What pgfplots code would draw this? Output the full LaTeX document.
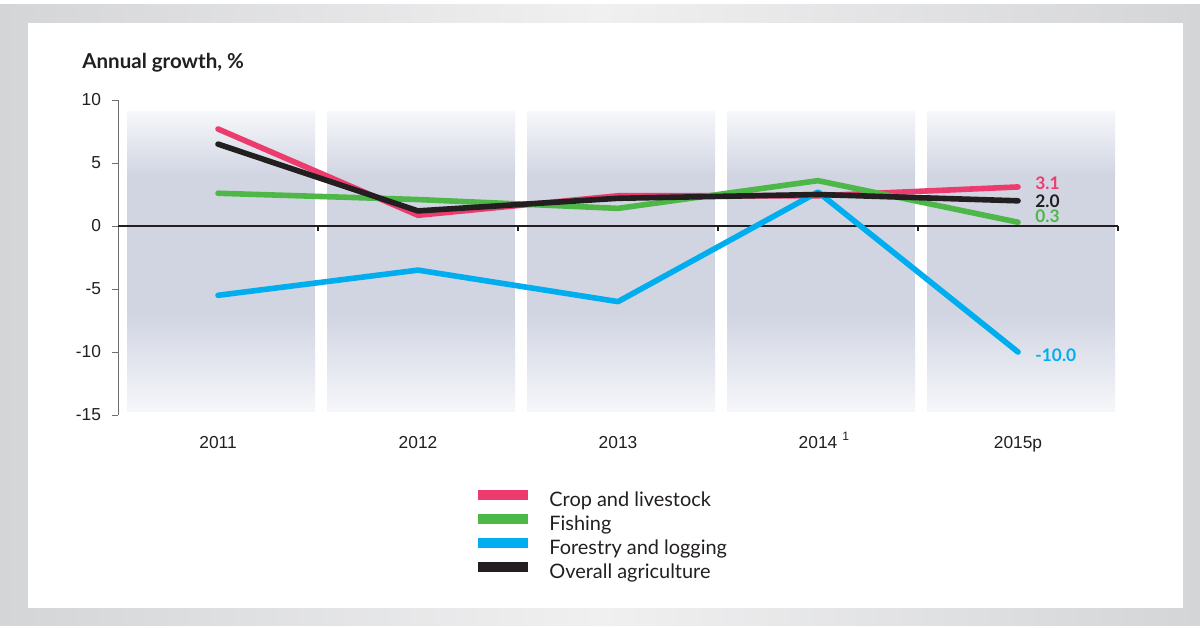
\documentclass[border=0pt]{standalone}
\usepackage{pgfplots}
\pgfplotsset{compat=1.18}
\usepackage{fontspec}
\setmainfont{Lato}
\newfontfamily\arialfont{Liberation Sans}
\definecolor{cpink}{HTML}{ED3B6E}
\definecolor{cgreen}{HTML}{4DB848}
\definecolor{cblue}{HTML}{00AEEF}
\definecolor{cblack}{HTML}{231F20}
\definecolor{axisgray}{HTML}{6D6E71}
\definecolor{band}{RGB}{209,213,226}
\definecolor{bandlight}{RGB}{246,247,250}
\definecolor{frameg}{RGB}{212,213,215}
\definecolor{framel}{RGB}{240,240,241}
\newcommand\band[2]{%
 \shade[top color=bandlight, bottom color=band] (axis cs:#1,9.05) rectangle (axis cs:#2,4);
 \fill[band] (axis cs:#1,4.05) rectangle (axis cs:#2,-7.05);
 \shade[top color=band, bottom color=bandlight] (axis cs:#1,-7) rectangle (axis cs:#2,-14.75);
}
\newcommand\ztick[1]{\draw[cblack, line width=0.6bp] (axis cs:#1,0) -- ([yshift=-2.5bp]axis cs:#1,0);}
\begin{document}
\begin{tikzpicture}
\begin{scope}[x=0.5bp,y=-0.5bp]
\fill[white] (0,0) rectangle (1200,627);
\shade[left color=frameg, right color=frameg, middle color=framel] (0,5) rectangle (1200,625);
\fill[white] (28,23) rectangle (1183,608);
\end{scope}
\node[anchor=base west, font=\bfseries\fontsize{10.3}{12}\selectfont, text=cblack, inner sep=0] at (41bp,-34.5bp) {Annual growth, \%};
\begin{axis}[
 at={(59bp,-207.5bp)}, anchor=south west,
 scale only axis, width=500bp, height=157.5bp,
 xmin=-0.5, xmax=4.5, ymin=-15, ymax=10,
 axis x line*=bottom, x axis line style={draw=none},
 axis y line*=left, y axis line style={draw=axisgray, line width=0.5bp},
 ytick={-15,-10,-5,0,5,10},
 ytick style={draw=axisgray, line width=0.5bp},
 xtick={0,1,2,3,4},
 xtick style={draw=none},
 xticklabels={2011,2012,2013,{2014\rlap{\hspace{2.5bp}\smash{\textsuperscript{1}}}},2015p},
 tick align=outside, major tick length=3bp,
 ticklabel style={font=\arialfont\fontsize{8.7}{10}\selectfont, text=cblack},
 xticklabel style={yshift=-4bp},
 yticklabel style={xshift=-2bp},
 /pgf/number format/assume math mode=true,
 clip=false,
 legend cell align=left,
 legend style={at={(rel axis cs:0.355,-0.229)}, anchor=north west, draw=none, fill=none, inner sep=0pt, row sep=-0.8bp, column sep=6bp, font=\fontsize{10}{12}\selectfont, text=cblack},
 legend image code/.code={\draw[#1, line width=5bp, line cap=butt] (0bp,2.9bp) -- (25bp,2.9bp);},
]
\band{-0.455}{0.485}
\band{0.545}{1.485}
\band{1.545}{2.485}
\band{2.545}{3.485}
\band{3.545}{4.485}
\draw[cblack, line width=0.7bp] (axis cs:-0.5,0) -- (axis cs:4.5,0);
\ztick{0.5}
\ztick{1.5}
\ztick{2.5}
\ztick{3.5}
\ztick{4.5}
\addplot[cpink, line width=2.8bp, line cap=round, line join=round] coordinates {(0,7.7)(1,0.85)(2,2.4)(3,2.4)(4,3.1)};
\addlegendentry{Crop and livestock}
\addplot[cgreen, line width=2.8bp, line cap=round, line join=round] coordinates {(0,2.6)(1,2.1)(2,1.4)(3,3.6)(4,0.3)};
\addlegendentry{Fishing}
\addplot[cblue, line width=2.8bp, line cap=round, line join=round] coordinates {(0,-5.5)(1,-3.5)(2,-6.0)(3,2.7)(4,-10.0)};
\addlegendentry{Forestry and logging}
\addplot[cblack, line width=2.8bp, line cap=round, line join=round] coordinates {(0,6.5)(1,1.2)(2,2.2)(3,2.5)(4,2.0)};
\addlegendentry{Overall agriculture}
\node[anchor=west, text=cpink, font=\bfseries\fontsize{8.7}{10}\selectfont, inner sep=0, xshift=8.5bp] at (axis cs:4,3.38) {3.1};
\node[anchor=west, text=cblack, font=\bfseries\fontsize{8.7}{10}\selectfont, inner sep=0, xshift=8.5bp] at (axis cs:4,1.98) {2.0};
\node[anchor=west, text=cgreen, font=\bfseries\fontsize{8.7}{10}\selectfont, inner sep=0, xshift=8.5bp] at (axis cs:4,0.74) {0.3};
\node[anchor=west, text=cblue, font=\bfseries\fontsize{8.7}{10}\selectfont, inner sep=0, xshift=8.5bp] at (axis cs:4,-10.24) {-10.0};
\end{axis}
\end{tikzpicture}
\end{document}
